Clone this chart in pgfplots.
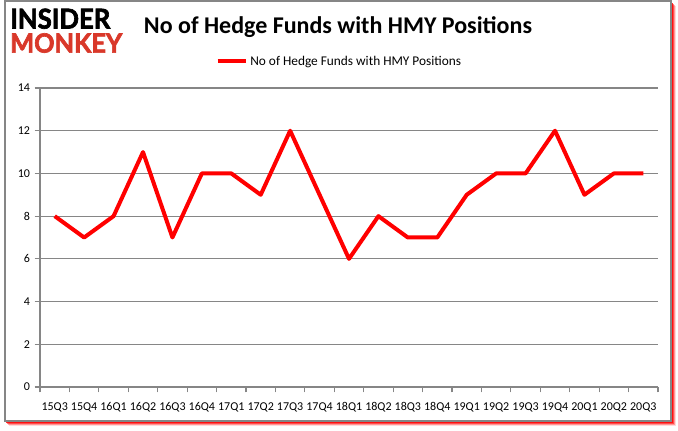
\documentclass[border=0pt]{standalone}
\usepackage{pgfplots}
\pgfplotsset{compat=1.18}
\usepackage{graphicx}
\usepackage{fontspec}
\setmainfont{Carlito}
\newfontfamily\logofont[BoldFeatures={FakeBold=2.5}]{Lato}
\definecolor{gridgray}{HTML}{868686}
\definecolor{logored}{HTML}{D9382A}
\begin{document}
\begin{tikzpicture}
% canvas 678x431 px at 0.75pt/px
\path[fill=white] (0pt,0pt) rectangle (508.5pt,323.25pt);
% shadow
\foreach \o/\op in {5/0.15,4/0.3,3/0.5,2/0.8}{
  \fill[red,opacity=\op] ({(4+\o)*0.75pt},{(10-\o)*0.75pt}) rectangle ({(671+\o)*0.75pt},{(430-\o)*0.75pt});
}
\fill[white,draw=gridgray,line width=1pt] (3.75pt,7.5pt) rectangle (503.25pt,322.5pt);
% logo
\node[anchor=north west,inner sep=0] at (7.5pt,317pt) {\resizebox{75pt}{15pt}{\logofont\bfseries INSIDER}};
\node[anchor=north west,inner sep=0] at (7.5pt,298.5pt) {\resizebox{84pt}{14.5pt}{\logofont\bfseries\color{logored}MONKEY}};
% title
\node[font=\fontsize{18}{18}\selectfont\bfseries] at (253.5pt,303pt) {No of Hedge Funds with HMY Positions};
\begin{axis}[
  at={(30pt,33pt)}, anchor=south west,
  width=463.5pt, height=224.25pt, scale only axis,
  xmin=0.5, xmax=21.5, ymin=0, ymax=14,
  axis x line*=bottom, axis y line*=left,
  axis line style={gridgray, line width=0.8pt},
  xtick={1,...,21},
  xticklabels={15Q3,15Q4,16Q1,16Q2,16Q3,16Q4,17Q1,17Q2,17Q3,17Q4,18Q1,18Q2,18Q3,18Q4,19Q1,19Q2,19Q3,19Q4,20Q1,20Q2,20Q3},
  major x tick style={draw=none},
  minor xtick={0.5,1.5,...,21.5},
  minor tick length=4pt,
  minor x tick style={gridgray, line width=0.8pt},
  tick align=outside,
  ytick={0,2,...,14},
  major tick length=4pt,
  y tick style={gridgray, line width=0.8pt},
  ymajorgrids, major grid style={gridgray, line width=0.8pt},
  tick label style={font=\fontsize{9}{10}\selectfont},
  xticklabel style={yshift=-4pt},
  /pgf/number format/assume math mode=true,
  legend style={at={(0.485,1.089)}, anchor=center, draw=none, fill=none,
    font=\fontsize{10}{11}\selectfont, legend columns=1, inner sep=0pt,
    nodes={inner xsep=2pt}},
  legend image code/.code={\draw[#1] (0pt,0pt) -- (21pt,0pt);},
  legend cell align=left,
  clip=false,
]
\addplot[red, line width=3pt, line join=round, mark=none] coordinates {
(1,8) (2,7) (3,8) (4,11) (5,7) (6,10) (7,10) (8,9) (9,12) (10,9) (11,6)
(12,8) (13,7) (14,7) (15,9) (16,10) (17,10) (18,12) (19,9) (20,10) (21,10)};
\addlegendentry{No of Hedge Funds with HMY Positions}
\end{axis}
\end{tikzpicture}
\end{document}
